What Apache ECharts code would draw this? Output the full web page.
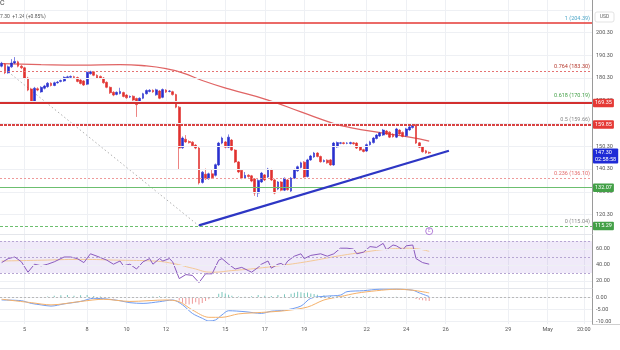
<!DOCTYPE html>
<html>
<head>
<meta charset="utf-8">
<script src="https://cdn.jsdelivr.net/npm/echarts@6/dist/echarts.min.js"></script>
<style>
  html, body { margin: 0; padding: 0; background: #fff; }
  #chart { width: 620px; height: 350px; }
</style>
</head>
<body>
<div id="chart"></div>
<script>
// ---- candles (open / close / low / high), one per session slot ----
const opens = [
  185.5,186.4,182.6,185.2,186.9,187.4,185.5,184.8,180.3,175.5,
  169.8,175.6,174.2,175.8,176.5,178.0,177.0,178.2,178.8,179.0,
  180.4,180.6,180.9,180.5,179.4,179.0,177.6,182.2,183.0,181.5,
  181.0,180.3,178.4,176.2,174.0,173.1,173.5,173.9,172.8,171.9,
  172.3,171.3,169.5,171.4,173.4,174.4,174.9,172.9,174.6,171.8,
  175.0,174.4,174.3,173.0,167.5,149.6,153.4,152.4,152.1,150.8,
  149.5,134.4,138.0,136.0,138.2,137.5,142.1,151.7,152.2,149.9,
  153.0,148.6,143.4,139.8,136.3,137.6,137.3,135.9,129.7,134.6,
  137.7,136.8,140.0,135.5,131.5,134.6,131.0,135.5,130.6,136.3,
  139.5,141.0,143.3,137.0,144.3,145.6,147.3,145.8,143.6,144.2,
  144.3,142.1,150.0,151.6,151.8,151.6,151.5,151.8,151.7,150.0,
  148.8,148.2,151.0,151.9,153.7,154.8,155.2,157.0,156.5,155.6,
  154.3,157.4,156.4,154.9,157.5,158.5,159.5,151.8,150.0,148.3,
  147.6
];
const closes = [
  186.8,182.6,185.2,186.9,187.6,185.5,184.8,180.3,175.0,169.8,
  175.8,175.0,176.2,176.8,178.0,177.0,178.2,178.5,179.2,180.6,
  180.8,181.0,180.5,178.8,177.9,177.2,182.8,183.0,181.5,180.3,
  180.2,178.2,176.2,173.8,172.8,174.0,174.4,172.2,171.6,172.2,
  170.6,168.6,171.4,173.4,174.8,174.9,174.2,175.1,171.4,175.2,
  174.1,174.6,173.0,167.5,149.5,153.9,152.2,151.9,150.5,149.5,
  134.2,138.9,136.0,138.2,136.5,142.2,151.7,153.9,149.9,154.3,
  148.6,143.4,139.0,136.3,137.5,137.0,135.0,129.7,135.3,138.5,
  135.5,140.3,135.5,129.7,134.6,131.0,136.2,131.2,136.3,139.9,
  141.3,143.0,136.8,144.3,146.0,147.3,145.8,143.5,144.0,143.0,
  142.1,151.7,151.9,151.8,151.5,151.7,151.9,151.4,149.5,148.6,
  148.0,151.0,152.2,153.9,155.2,156.1,157.4,155.7,154.3,154.5,
  157.9,155.7,154.6,157.9,158.8,159.5,151.7,149.9,147.9,147.4,
  147.3
];
const lows = [
  185.0,182.0,182.2,184.8,186.4,185.0,184.2,179.8,174.5,169.3,
  169.4,174.5,173.8,175.3,176.0,176.6,176.7,177.8,178.4,178.6,
  180.0,180.2,180.1,178.4,177.5,176.8,177.2,181.8,181.1,179.9,
  179.8,177.8,175.8,173.3,172.3,172.7,173.1,171.8,171.2,171.5,
  170.2,163.2,169.1,171.0,173.0,174.0,173.8,172.5,171.0,171.4,
  173.7,174.0,172.6,167.0,140.0,149.2,151.8,151.5,150.0,149.0,
  133.5,133.9,135.5,135.6,136.0,137.0,141.6,151.2,149.4,149.5,
  148.2,142.9,138.5,135.8,135.9,136.5,134.5,128.5,128.0,134.2,
  135.0,136.4,135.0,129.2,131.0,130.5,130.6,130.8,130.2,135.9,
  139.1,140.6,136.4,136.6,143.9,145.2,145.4,143.1,143.2,142.6,
  141.7,141.7,149.6,151.2,151.1,151.2,151.1,151.0,149.1,148.2,
  147.6,147.8,150.6,151.5,153.3,154.4,154.8,155.3,153.9,154.1,
  153.9,155.3,154.2,154.5,157.1,158.1,151.3,149.5,147.5,147.0,
  146.9
];
const highs = [
  187.4,186.9,185.8,188.6,189.5,187.9,186.0,185.2,180.8,176.0,
  176.4,176.2,176.7,177.3,178.5,178.4,178.7,179.0,179.6,181.0,
  181.3,181.4,181.3,180.9,179.8,179.4,183.2,183.5,183.4,181.9,
  181.4,180.7,178.8,176.6,174.5,174.4,176.0,174.3,173.2,172.6,
  172.7,171.7,171.8,173.8,175.3,175.4,175.3,175.6,175.0,175.7,
  175.4,175.0,174.7,173.4,168.0,154.6,155.2,152.9,152.5,151.2,
  150.0,139.4,140.5,138.7,140.0,142.7,152.2,154.5,152.6,155.5,
  153.5,149.0,143.8,140.2,139.0,138.0,137.7,136.3,135.8,139.0,
  138.1,140.8,140.4,136.0,135.0,135.0,136.6,135.9,136.8,140.4,
  141.8,143.5,143.8,144.8,146.5,147.8,147.7,146.2,144.5,144.6,
  144.7,152.2,152.4,152.2,152.2,152.1,152.3,152.2,152.1,150.4,
  149.2,151.5,152.7,154.4,155.7,156.6,157.9,157.4,156.9,156.0,
  158.4,157.8,156.8,158.4,159.3,160.1,160.0,152.2,150.4,148.7,
  148.0
];

// slow moving average, [slot, price]
const movingAvg = [
  [0,186.6],[12,186.2],[24,186.0],[36,186.2],[44,185.6],[50,184.4],[55,182.6],
  [61,179.2],[69,175.5],[81,170.6],[91,165.4],[101,160.3],[106,158.5],
  [116,156.1],[124,154.3],[130,152.6]
];

// drawn tools: rising support line and the swing used for the Fibonacci levels
const supportLine = [[60,115.5],[136,148.3]];
const fibSwing = [[2,183.0],[60,115.3]];

// Fibonacci retracement
const fibRatios = ['1','0.764','0.618','0.5','0.236','0'];
const fibPrices = [204.39,183.30,170.19,159.66,136.10,115.04];

// horizontal key levels
const resistanceLevels = [169.35,159.85];
const supportLevels = [132.07,115.29];
const lastPrice = 147.30;
const countdown = '02:58:58';

// RSI and its average, [slot, value]
const rsi = [
  [0,43],[2,48],[4,50],[6,44],[8,31],[10,41],[12,39],[14,41],[16,44],[19,50],
  [21,50],[23,48],[25,43],[27,54],[29,51],[32,46],[34,41],[36,45],[37,39],[39,41],
  [41,35],[43,44],[45,48],[46,41],[48,48],[49,45],[51,48],[52,44],[54,23],[56,28],
  [58,27],[60,18],[62,29],[64,29],[66,46],[67,48],[69,41],[71,35],[73,37],[75,33],
  [76,31],[78,37],[79,41],[81,45],[82,36],[84,41],[85,42],[86,39],[87,45],[89,51],
  [91,54],[92,48],[94,52],[97,54],[99,51],[101,54],[103,61],[105,61],[107,60],[108,54],
  [110,56],[112,63],[114,62],[116,67],[117,59],[119,65],[120,64],[122,59],[123,64],
  [125,65],[126,48],[128,43],[130,41]
];
const rsiAvg = [
  [0,45],[12,46],[24,47],[36,46],[46,45],[52,42],[58,36],[64,31],[70,33],[78,36],
  [86,40],[94,45],[102,51],[110,56],[118,60],[124,61],[130,57]
];

// MACD line, signal and histogram, [slot, value]
const macdLine = [
  [0,-1.1],[6,-1.4],[9,-2.5],[12,-3.1],[15,-3.6],[19,-2.7],[24,-1.7],[28,-0.4],
  [32,-0.7],[36,-1.4],[39,-2.2],[43,-2.5],[48,-1.8],[52,-1.1],[55,-3.1],[58,-6.6],
  [61,-8.6],[63,-9.7],[65,-9.3],[67,-7.2],[69,-5.5],[74,-5.9],[79,-6.6],[82,-5.7],
  [86,-5.3],[91,-3.6],[94,-0.4],[99,0.5],[103,0.9],[105,2.3],[110,2.7],[115,3.3],
  [120,3.3],[125,2.9],[127,1.8],[130,0.3]
];
const macdSignal = [
  [0,-0.8],[9,-2.2],[15,-3.1],[24,-1.7],[31,-0.8],[39,-1.7],[50,-1.1],[54,-1.8],
  [58,-5.2],[63,-8.2],[67,-8.2],[72,-6.8],[79,-6.2],[86,-5.5],[93,-4.0],[98,-1.1],
  [103,0.3],[108,1.7],[114,2.7],[120,3.3],[125,2.9],[130,1.8]
];
const macdHist = [
  [14,0.3],[16,0.6],[18,0.8],[20,0.9],[22,0.6],[24,0.8],[26,0.9],[28,0.5],[30,0.3],
  [32,-0.3],[34,-0.4],[36,-0.3],[38,-0.2],[40,-0.3],[44,0.2],[46,0.3],[48,0.4],[50,0.3],
  [52,0.1],[54,-1.3],[55,-2.2],[56,-2.8],[57,-3.0],[58,-2.6],[59,-2.0],[60,-2.9],
  [61,-2.3],[62,-1.5],[63,-0.8],[64,-0.2],[66,1.5],[67,2.2],[68,1.6],[69,1.0],[70,0.6],
  [72,0.3],[74,0.2],[76,0.4],[78,0.9],[80,0.6],[82,0.5],[84,0.9],[86,1.2],[88,1.5],
  [89,1.9],[90,2.3],[91,2.1],[92,1.8],[93,2.0],[94,1.6],[95,1.4],[96,1.0],[98,0.8],
  [100,0.6],[102,0.5],[104,0.3],[106,0.3],[108,0.2],[110,0.4],[112,0.3],[114,0.2],
  [116,0.2],[118,0.1],[120,0.2],[122,-0.1],[124,-0.2],[126,-0.7],[127,-1.0],[128,-1.2],
  [129,-1.4],[130,-1.5]
];

// axes: time slots and tick labels
const slotCount = 180;
const slots = Array.from({ length: slotCount }, (_, i) => String(i));
const dateTickSlots = [7,26,38,50,68,80,92,111,123,135,154,166,177];
const dateTickText = ['5','8','10','12','15','17','19','22','24','26','29','May','20:00'];
const priceTicks = [120.30,130.30,140.30,150.30,160.30,170.30,180.30,190.30,200.30];
const priceGridOnly = [210.30];
const rsiTicks = [20,40,60];
const rsiBands = [30,50,70];
const macdTicks = [-10,-5,0];

// ---------------- drawing ----------------
const FONT = 'Roboto, "Liberation Sans", sans-serif';
const UP = '#2a30cf', DOWN = '#e0312f';
const GRID = '#eef0f4';
const AXIS_TXT = '#555';
const CLEAR = 'rgba(0,0,0,0)';
const isDateTick = (idx) => dateTickSlots.indexOf(idx) >= 0;

const candleData = opens.map((o, i) => [o, closes[i], lows[i], highs[i]]);

function tickLine(v, text) {
  return {
    yAxis: v,
    lineStyle: { color: GRID, width: 1, type: 'solid' },
    label: text == null ? { show: false } : {
      show: true, position: 'end', distance: 4, formatter: text,
      color: AXIS_TXT, fontSize: 5.5, fontFamily: FONT
    }
  };
}
function boxLabel(v, bg, text) {
  return {
    yAxis: v,
    lineStyle: { color: CLEAR, width: 1 },
    label: {
      show: true, position: 'end', distance: 1, formatter: text || v.toFixed(2),
      color: '#fff', backgroundColor: bg, padding: [1, 2, 1, 2], borderRadius: 1,
      fontSize: 5.5, fontFamily: FONT, lineHeight: 6.5
    }
  };
}

const fibColors = ['#4ea6c8', '#b5382c', '#43a047', '#8a8a8a', '#e36b6b', '#8a8a8a'];
const fibLineStyles = [
  { color: '#e53935', width: 1.5, type: 'solid' },
  { color: '#e57373', width: 1, type: [2, 2] },
  { color: CLEAR, width: 1 },
  { color: CLEAR, width: 1 },
  { color: '#ef9a9a', width: 1, type: [2, 2] },
  { color: CLEAR, width: 1 }
];
const fibMarks = fibPrices.map((p, k) => ({
  yAxis: p,
  lineStyle: fibLineStyles[k],
  label: {
    show: true, position: 'insideEndTop', distance: 2,
    formatter: fibRatios[k] + ' (' + p.toFixed(2) + ')',
    color: fibColors[k], fontSize: 5.5, fontFamily: FONT
  }
}));

const levelStyles = {
  169.35: { color: '#d32f2f', width: 2, type: 'solid' },
  159.85: { color: '#d84343', width: 2, type: [3, 1] },
  132.07: { color: '#6cbf6f', width: 1.2, type: 'solid' },
  115.29: { color: '#6cbf6f', width: 1.2, type: [3, 2] }
};
const levelMarks = [];
resistanceLevels.forEach(v => {
  levelMarks.push({ yAxis: v, lineStyle: levelStyles[v], label: { show: false } });
  levelMarks.push(boxLabel(v, '#e53935'));
});
supportLevels.forEach(v => {
  levelMarks.push({ yAxis: v, lineStyle: levelStyles[v], label: { show: false } });
  levelMarks.push(boxLabel(v, '#43a047'));
});
const lastMark = boxLabel(lastPrice, '#1f2bd6', lastPrice.toFixed(2) + '\n' + countdown);
lastMark.label.offset = [0, 3];

const priceGridMarks = priceTicks.map(v => tickLine(v, v.toFixed(2)))
  .concat(priceGridOnly.map(v => tickLine(v, null)));

const rsiMarks = rsiTicks.map(v => tickLine(v, v.toFixed(2)))
  .concat(rsiBands.map(v => ({
    yAxis: v, lineStyle: { color: '#b7a6d3', width: 1, type: [2, 2] }, label: { show: false }
  })));
const macdMarks = macdTicks.map(v => tickLine(v, v.toFixed(2)));
macdMarks.push({ yAxis: 0, lineStyle: { color: '#b9b9b9', width: 1, type: [2, 2] }, label: { show: false } });

function xAxisFor(gridIndex, withLabels) {
  return {
    type: 'category', gridIndex, data: slots, boundaryGap: true,
    axisLine: { show: true, lineStyle: { color: withLabels ? '#cfcfcf' : '#e4e6eb', width: 1 } },
    axisTick: { show: false },
    axisLabel: withLabels ? {
      show: true, interval: isDateTick, margin: 3,
      formatter: (v) => { const k = dateTickSlots.indexOf(+v); return k >= 0 ? dateTickText[k] : ''; },
      color: AXIS_TXT, fontSize: 5.5, fontFamily: FONT
    } : { show: false },
    splitLine: { show: true, interval: isDateTick, alignWithLabel: true, lineStyle: { color: GRID, width: 1 } }
  };
}
function yAxisFor(gridIndex, min, max) {
  return {
    type: 'value', gridIndex, min, max, position: 'right',
    axisLine: { show: true, lineStyle: { color: '#9a9a9a', width: 1 } },
    axisTick: { show: false }, axisLabel: { show: false }, splitLine: { show: false }
  };
}

const chart = echarts.init(document.getElementById('chart'), null, { renderer: 'canvas' });
chart.setOption({
  animation: false,
  backgroundColor: '#ffffff',
  textStyle: { fontFamily: FONT },
  grid: [
    { left: 0, right: 28, top: 0, height: 234 },
    { left: 0, right: 28, top: 234, height: 54 },
    { left: 0, right: 28, top: 288, height: 36 }
  ],
  xAxis: [xAxisFor(0, false), xAxisFor(1, false), xAxisFor(2, true)],
  yAxis: [
    yAxisFor(0, 111.73, 214.59),
    yAxisFor(1, 11.25, 78.75),
    yAxisFor(2, -10.94, 3.81)
  ],
  graphic: [
    { type: 'text', left: 0, top: 0, style: { text: 'C', fill: '#444', font: '7px ' + FONT } },
    { type: 'text', left: 0, top: 14, style: { text: '7.30  +1.24 (+0.85%)', fill: '#555', font: '5px ' + FONT } },
    { type: 'rect', shape: { x: 595, y: 12, width: 19, height: 10, r: 2 },
      style: { fill: '#fff', stroke: '#dcdcdc', lineWidth: 0.8 } },
    { type: 'text', x: 604.5, y: 17, style: { text: 'USD', fill: '#666', font: '5px ' + FONT, align: 'center', verticalAlign: 'middle' } },
    { type: 'line', shape: { x1: 592, y1: 324.5, x2: 620, y2: 324.5 }, style: { stroke: '#cfcfcf', lineWidth: 1 } }
  ],
  series: [
    {
      name: 'grid', type: 'line', xAxisIndex: 0, yAxisIndex: 0, data: movingAvg,
      symbol: 'none', lineStyle: { color: CLEAR }, silent: true, z: 1,
      markLine: { symbol: ['none', 'none'], silent: true, animation: false, data: priceGridMarks }
    },
    {
      name: 'MA', type: 'line', xAxisIndex: 0, yAxisIndex: 0, data: movingAvg,
      smooth: true, symbol: 'none', lineStyle: { color: '#e06464', width: 1.3 }, z: 3
    },
    {
      name: 'levels', type: 'candlestick', xAxisIndex: 0, yAxisIndex: 0,
      data: candleData, barWidth: 2.3, z: 4,
      itemStyle: { color: UP, color0: DOWN, borderColor: UP, borderColor0: DOWN, borderWidth: 0.6 },
      markLine: {
        symbol: ['none', 'none'], silent: true, animation: false,
        data: fibMarks.concat(levelMarks).concat([lastMark])
      }
    },
    {
      name: 'fib swing', type: 'line', xAxisIndex: 0, yAxisIndex: 0, data: fibSwing,
      symbol: 'none', lineStyle: { color: '#b0b0b0', width: 1, type: [1.5, 2.5] }, z: 3
    },
    {
      name: 'support', type: 'line', xAxisIndex: 0, yAxisIndex: 0, data: supportLine,
      symbol: 'none', lineStyle: { color: '#2d36c4', width: 2.2 }, z: 5
    },
    {
      name: 'event', type: 'scatter', xAxisIndex: 0, yAxisIndex: 0, data: [[130, 113.0]],
      symbol: 'circle', symbolSize: 7, clip: false, z: 6,
      itemStyle: { color: '#fff', borderColor: '#a05fd0', borderWidth: 1 },
      label: { show: true, position: 'inside', formatter: 'E', color: '#a05fd0', fontSize: 4.5, fontFamily: FONT }
    },
    {
      name: 'RSI', type: 'line', xAxisIndex: 1, yAxisIndex: 1, data: rsi,
      symbol: 'none', lineStyle: { color: '#8c5bbf', width: 1 }, z: 3,
      markArea: { silent: true, itemStyle: { color: 'rgba(140, 95, 210, 0.13)' }, data: [[{ yAxis: 30 }, { yAxis: 70 }]] },
      markLine: { symbol: ['none', 'none'], silent: true, animation: false, data: rsiMarks }
    },
    {
      name: 'RSI MA', type: 'line', xAxisIndex: 1, yAxisIndex: 1, data: rsiAvg,
      smooth: true, symbol: 'none', lineStyle: { color: '#f4c997', width: 1 }, z: 2
    },
    {
      name: 'Histogram', type: 'bar', xAxisIndex: 2, yAxisIndex: 2, data: macdHist,
      barWidth: 0.8, z: 2,
      itemStyle: { color: (p) => p.value[1] >= 0 ? '#7cc7bd' : '#ef9a9a' },
      markLine: { symbol: ['none', 'none'], silent: true, animation: false, data: macdMarks }
    },
    {
      name: 'MACD', type: 'line', xAxisIndex: 2, yAxisIndex: 2, data: macdLine,
      smooth: 0.3, symbol: 'none', lineStyle: { color: '#6f9cf2', width: 1 }, z: 3
    },
    {
      name: 'Signal', type: 'line', xAxisIndex: 2, yAxisIndex: 2, data: macdSignal,
      smooth: 0.3, symbol: 'none', lineStyle: { color: '#f5b16a', width: 1 }, z: 3
    }
  ]
});
</script>
</body>
</html>
